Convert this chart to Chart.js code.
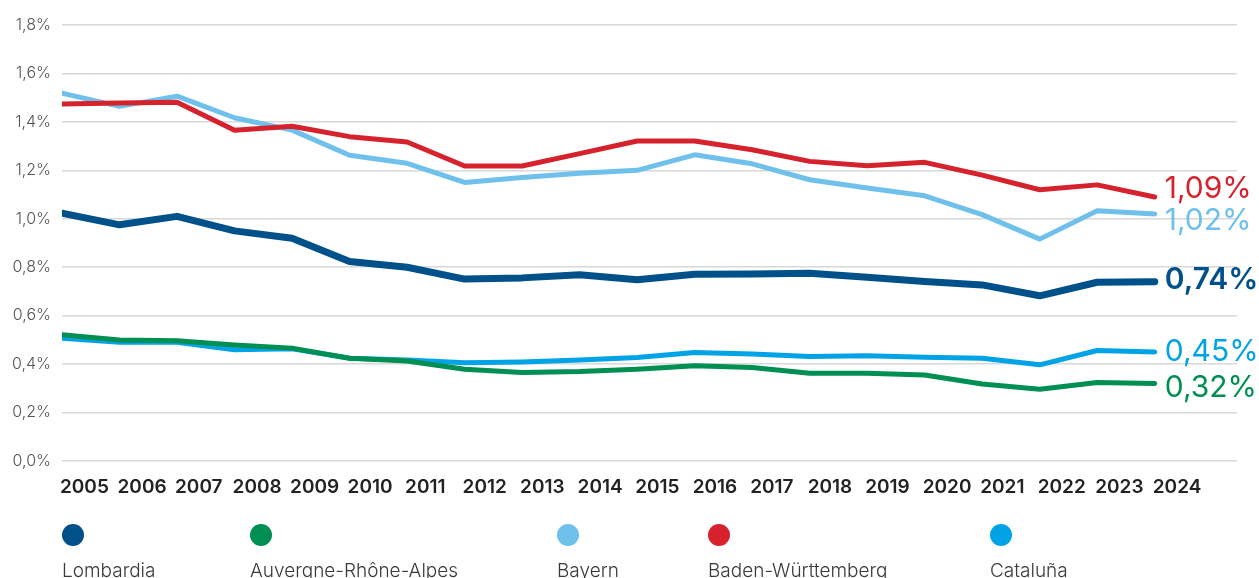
<!DOCTYPE html>
<html>
<head>
<meta charset="utf-8">
<script src="https://cdn.jsdelivr.net/npm/chart.js@4.4.1/dist/chart.umd.min.js"></script>
<style>
  html, body { margin: 0; padding: 0; background: #fff; }
  #wrap { position: relative; width: 1259px; height: 578px; }
</style>
</head>
<body>
<div id="wrap"><canvas id="myChart"></canvas></div>
<script>
var years = [2005, 2006, 2007, 2008, 2009, 2010, 2011, 2012, 2013, 2014,
             2015, 2016, 2017, 2018, 2019, 2020, 2021, 2022, 2023, 2024];
// share in %, one value per year
var lombardia  = [1.023, 0.975, 1.010, 0.950, 0.920, 0.824, 0.800, 0.751, 0.756, 0.769,
                  0.748, 0.771, 0.772, 0.775, 0.759, 0.741, 0.727, 0.682, 0.738, 0.74];
var auvergne   = [0.521, 0.500, 0.496, 0.479, 0.466, 0.424, 0.413, 0.379, 0.365, 0.369,
                  0.379, 0.393, 0.386, 0.362, 0.362, 0.355, 0.318, 0.296, 0.324, 0.32];
var bayern     = [1.519, 1.464, 1.506, 1.417, 1.366, 1.262, 1.229, 1.150, 1.170, 1.188,
                  1.200, 1.264, 1.227, 1.161, 1.127, 1.095, 1.017, 0.916, 1.033, 1.02];
var badenW     = [1.474, 1.478, 1.481, 1.365, 1.382, 1.339, 1.317, 1.218, 1.218, 1.269,
                  1.321, 1.321, 1.285, 1.237, 1.219, 1.233, 1.180, 1.120, 1.140, 1.09];
var cataluna   = [0.507, 0.490, 0.490, 0.459, 0.463, 0.424, 0.417, 0.406, 0.409, 0.417,
                  0.427, 0.448, 0.442, 0.431, 0.435, 0.428, 0.424, 0.397, 0.456, 0.45];
var regions = ["Lombardia", "Auvergne-Rhône-Alpes", "Bayern", "Baden-Württemberg", "Cataluña"];

function pct(v, d) {
  return v.toFixed(d).replace('.', ',') + '%';
}
function points(arr) {
  return arr.map(function (v, i) { return { x: years[i], y: v }; });
}

// value of the last year, written right of each line
var endLabels = {
  id: 'endLabels',
  afterDatasetsDraw: function (chart) {
    var ctx = chart.ctx;
    ctx.save();
    ctx.textAlign = 'left';
    ctx.textBaseline = 'middle';
    chart.data.datasets.forEach(function (ds, i) {
      var meta = chart.getDatasetMeta(i);
      var last = meta.data[meta.data.length - 1];
      ctx.font = (ds.endBold ? '600 ' : '400 ') + '30px Inter, sans-serif';
      ctx.fillStyle = ds.borderColor;
      ctx.fillText(pct(ds.data[ds.data.length - 1].y, 2), last.x + 10, last.y + ds.endNudge);
    });
    ctx.restore();
  }
};

// dots and names under the axis
var dotLegend = {
  id: 'dotLegend',
  afterDraw: function (chart) {
    var ctx = chart.ctx;
    var xs = [62, 250, 557, 708, 990];
    ctx.save();
    chart.data.datasets.forEach(function (ds, i) {
      ctx.fillStyle = ds.borderColor;
      ctx.beginPath();
      ctx.arc(xs[i] + 11, 535, 11, 0, Math.PI * 2);
      ctx.fill();
      ctx.fillStyle = '#3a3a3a';
      ctx.font = '300 19px Inter, sans-serif';
      ctx.textAlign = 'left';
      ctx.textBaseline = 'alphabetic';
      ctx.fillText(ds.label, xs[i], 577);
    });
    ctx.restore();
  }
};

var ctx = document.getElementById("myChart");
var myChart = new Chart(ctx, {
  type: 'line',
  data: {
    datasets: [
      { label: regions[0], data: points(lombardia), borderColor: '#005089', borderWidth: 7, order: 0, endBold: true, endNudge: -2 },
      { label: regions[1], data: points(auvergne), borderColor: '#008f52', borderWidth: 5, order: 2, endNudge: 4 },
      { label: regions[2], data: points(bayern), borderColor: '#6fc0eb', borderWidth: 5, order: 3, endNudge: 7 },
      { label: regions[3], data: points(badenW), borderColor: '#d5222d', borderWidth: 5, order: 1, endNudge: -8 },
      { label: regions[4], data: points(cataluna), borderColor: '#00a3e5', borderWidth: 5, order: 4, endNudge: 0 }
    ]
  },
  options: {
    responsive: true,
    maintainAspectRatio: false,
    animation: false,
    layout: { padding: { top: 25, right: 22, bottom: 72, left: 0 } },
    elements: {
      point: { radius: 0, hoverRadius: 0 },
      line: { tension: 0, borderCapStyle: 'round', borderJoinStyle: 'round', fill: false }
    },
    plugins: {
      legend: { display: false },
      tooltip: { enabled: false }
    },
    scales: {
      x: {
        type: 'linear',
        min: 2005,
        max: 2025.43,
        afterBuildTicks: function (s) { s.ticks = years.map(function (y) { return { value: y }; }); },
        afterFit: function (s) { s.height = 45; },
        grid: { display: false },
        border: { display: false },
        ticks: {
          autoSkip: false,
          maxRotation: 0,
          align: 'start',
          labelOffset: -2,
          padding: 7,
          color: '#222',
          font: { family: 'Inter', size: 19, weight: '600' },
          callback: function (v) { return String(v); }
        }
      },
      y: {
        min: 0,
        max: 1.8,
        afterFit: function (s) { s.width = 62; },
        grid: { color: '#d8d8d8', lineWidth: 1.5, drawTicks: false },
        border: { display: false },
        ticks: {
          stepSize: 0.2,
          padding: 11,
          color: '#555',
          font: { family: 'Inter', size: 16, weight: '300' },
          callback: function (v) { return pct(v, 1); }
        }
      }
    }
  },
  plugins: [endLabels, dotLegend]
});
</script>
</body>
</html>
